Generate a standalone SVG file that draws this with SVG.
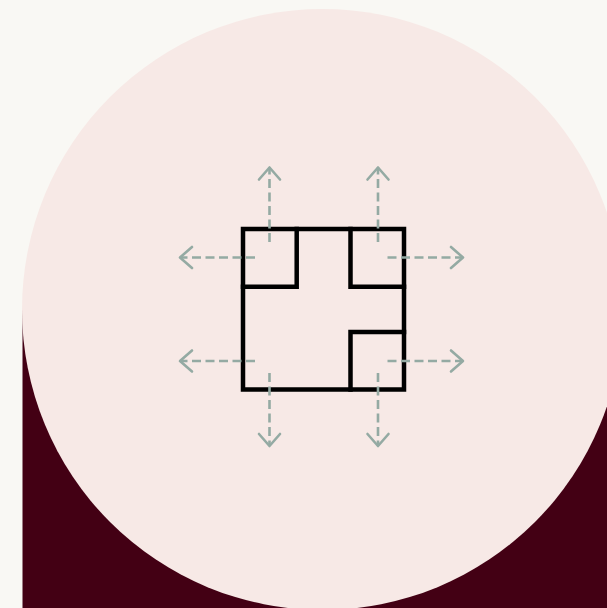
<svg xmlns="http://www.w3.org/2000/svg" width="607" height="608" viewBox="0 0 607 608">
  <style>
    .wall { fill: none; stroke: #000; stroke-width: 4.5; stroke-linecap: square; stroke-linejoin: miter; }
    .arrow { fill: none; stroke: #94aaa3; stroke-width: 2.6; stroke-dasharray: 9 4.5; marker-end: url(#chev); }
  </style>
  <defs>
    <marker id="chev" viewBox="-15 -13 18 26" refX="0" refY="0" markerWidth="18" markerHeight="26" markerUnits="userSpaceOnUse" orient="auto">
      <path d="M-12 -10.5 L0 0 L-12 10.5" fill="none" stroke="#94aaa3" stroke-width="2.6" stroke-linecap="round" stroke-linejoin="round"/>
    </marker>
  </defs>
  <rect id="background" x="0" y="0" width="607" height="608" fill="#f9f8f4"/>
  <rect id="base" x="22.5" y="309" width="590" height="305" fill="#430014"/>
  <circle id="disc" cx="322.5" cy="309.5" r="300.5" fill="#f7e9e6"/>
  <g id="plan">
    <rect class="wall" x="243" y="229" width="161" height="160.5"/>
    <path class="wall" d="M296.7 229 V286.7 H243"/>
    <path class="wall" d="M350.5 229 V286.7 H404"/>
    <path class="wall" d="M404 332 H350.5 V389.5"/>
  </g>
  <g id="connectors">
    <path class="arrow" d="M269.5 242 V167.5"/>
    <path class="arrow" d="M378 242 V167.5"/>
    <path class="arrow" d="M255 257.5 H180"/>
    <path class="arrow" d="M387.5 257.5 H463"/>
    <path class="arrow" d="M255 361 H180"/>
    <path class="arrow" d="M387.5 361 H463"/>
    <path class="arrow" d="M269.5 373 V446"/>
    <path class="arrow" d="M378 373 V446"/>
  </g>
</svg>
